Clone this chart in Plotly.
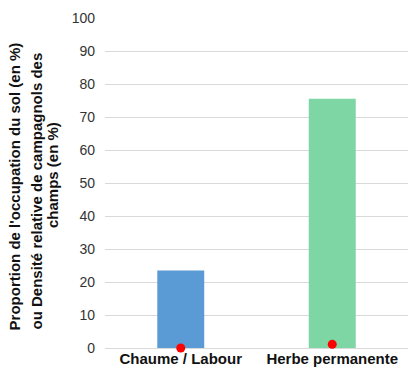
import plotly.graph_objects as go

categories = ['Chaume / Labour', 'Herbe permanente']
occupation = [23.5, 75.5]
densite = [0.0, 1.1]
bar_colors = ['#5B9BD5', '#7DD6A3']
y_ticks = [0, 10, 20, 30, 40, 50, 60, 70, 80, 90, 100]
title_lines = [
    "Proportion de l'occupation du sol (en %)",
    "ou Densité relative de campagnols des",
    "champs (en %)",
]


def main() -> None:
    fig = go.Figure()

    fig.add_trace(
        go.Bar(
            x=categories,
            y=occupation,
            marker=dict(color=bar_colors, line=dict(width=0)),
            width=0.31,
            name="Occupation du sol",
        )
    )

    fig.add_trace(
        go.Scatter(
            x=categories,
            y=densite,
            mode='markers',
            marker=dict(color='#FF0000', size=9),
            name='Densité relative',
            cliponaxis=False,
        )
    )

    # y title drawn as three rotated lines (tighter spacing than plotly's <br>)
    title_pos = [(-0.30, 0.49), (-0.227, 0.475), (-0.175, 0.524)]
    for line, (px, py) in zip(title_lines, title_pos):
        fig.add_annotation(
            text=line,
            xref='paper', yref='paper',
            x=px, y=py,
            xanchor='center', yanchor='middle',
            textangle=-90,
            showarrow=False,
            font=dict(size=15, color='#111111', weight='bold'),
        )

    fig.update_layout(
        width=411,
        height=376,
        margin=dict(l=105, r=3, t=18, b=28),
        paper_bgcolor='white',
        plot_bgcolor='white',
        showlegend=False,
        font=dict(family='Liberation Sans, Arial, sans-serif', size=14, color='#222222'),
        xaxis=dict(
            showline=False,
            showgrid=False,
            ticks='',
            tickfont=dict(size=15, color='#111111', weight='bold'),
        ),
        yaxis=dict(
            range=[0, 100],
            tickvals=y_ticks,
            showgrid=True,
            gridcolor='#D9D9D9',
            gridwidth=1,
            zeroline=True,
            zerolinecolor='#D9D9D9',
            zerolinewidth=1,
            showline=False,
            ticks='',
            ticklabelstandoff=9,
            tickfont=dict(size=14, color='#333333'),
        ),
    )

    fig.write_html(
        "out.html",
        config={'displayModeBar': False},
        post_script="document.body.style.margin='0';",
    )


if __name__ == '__main__':
    main()
